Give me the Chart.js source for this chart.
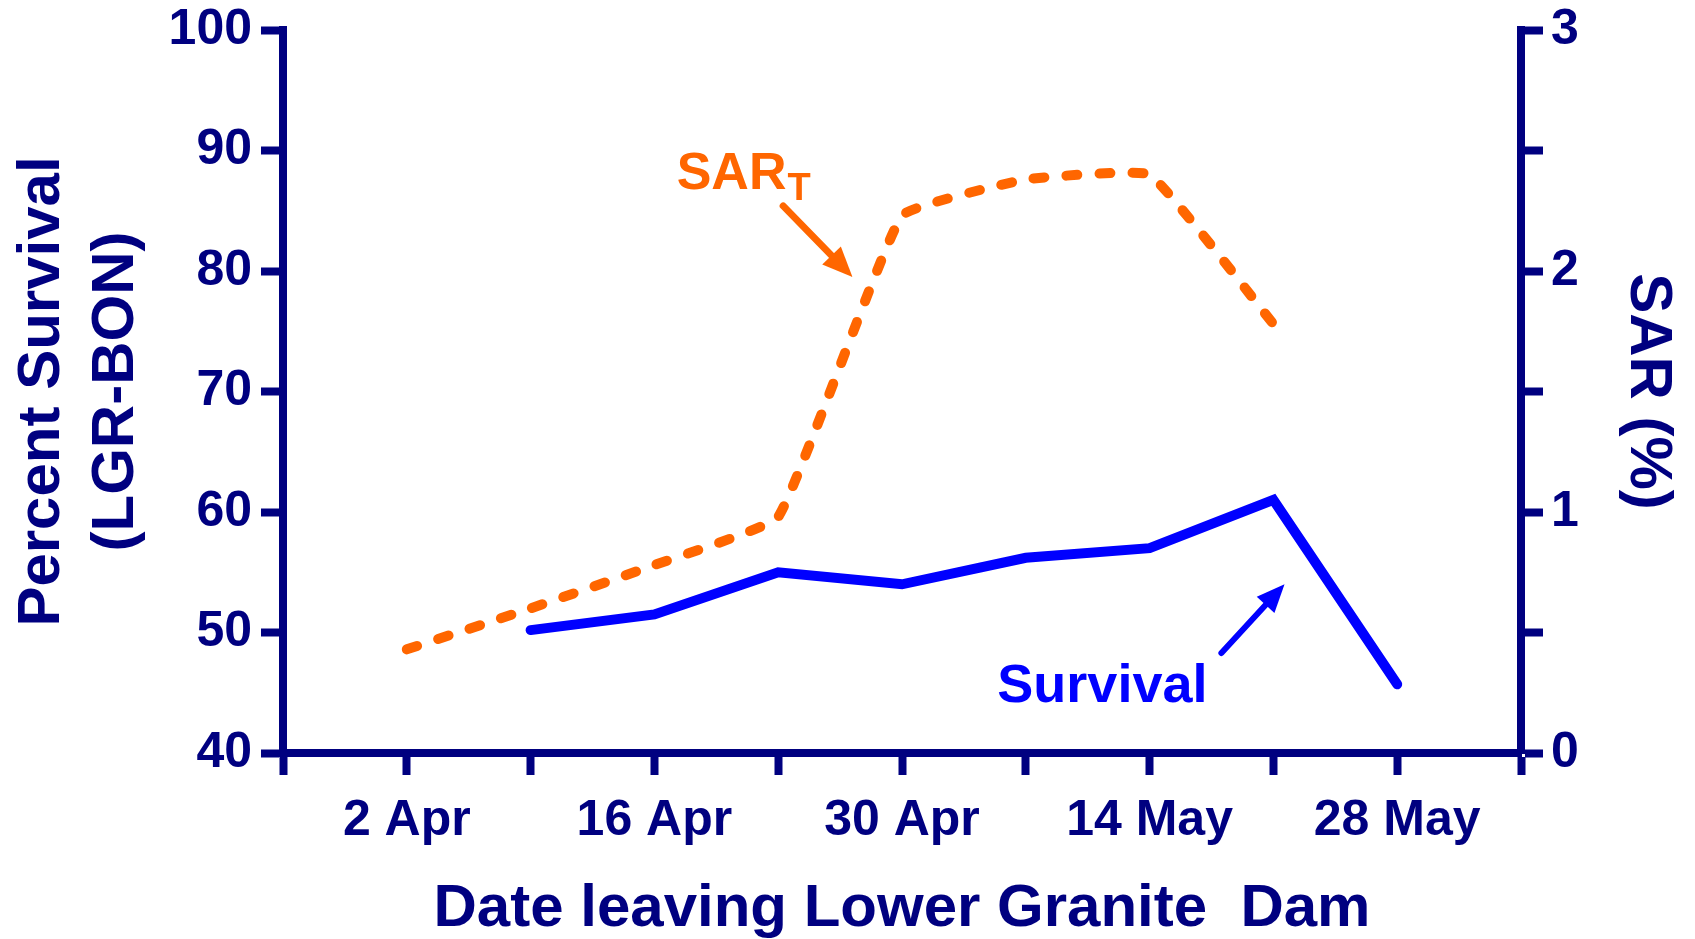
<!DOCTYPE html>
<html>
<head>
<meta charset="utf-8">
<title>Survival and SAR</title>
<script src="https://cdn.jsdelivr.net/npm/chart.js@4.4.1/dist/chart.umd.min.js"></script>
<style>
  body { margin: 0; background: #fff; }
  canvas { display: block; }
</style>
</head>
<body>
<canvas id="chart" width="1695" height="939"></canvas>
<script>
// Data (x = weeks from 26 Mar)
const weekLabels = ['', '2 Apr', '', '16 Apr', '', '30 Apr', '', '14 May', '', '28 May', ''];
const survivalWeeks = [2, 3, 4, 5, 6, 7, 8, 9];
const survivalPct = [50.2, 51.5, 55.0, 54.0, 56.2, 57.0, 61.0, 45.7];
const sarWeeks = [1, 2, 3, 4, 5, 6, 7, 8];
const sarPct = [0.43, 0.60, 0.78, 0.98, 2.23, 2.38, 2.40, 1.78];

// Annotation anchors, in data units
const sarNote = { x: 3.18, y: 2.34 };
const sarArrow = { x1: 4.04, y1: 2.27, x2: 4.60, y2: 1.975 };
const survNote = { x: 5.77, y: 44.2 };
const survArrow = { x1: 7.58, y1: 48.3, x2: 8.09, y2: 54.0 };

const NAVY = '#000080';
const BLUE = '#0000FF';
const ORANGE = '#FF6600';
const FONT = "'Liberation Sans', Arial, sans-serif";

function drawArrow(ctx, x1, y1, x2, y2, color, width, headLen, headW) {
    const ang = Math.atan2(y2 - y1, x2 - x1);
    const bx = x2 - Math.cos(ang) * headLen;
    const by = y2 - Math.sin(ang) * headLen;
    ctx.save();
    ctx.strokeStyle = color;
    ctx.fillStyle = color;
    ctx.lineWidth = width;
    ctx.lineCap = 'round';
    ctx.beginPath();
    ctx.moveTo(x1, y1);
    ctx.lineTo(bx + Math.cos(ang) * 4, by + Math.sin(ang) * 4);
    ctx.stroke();
    ctx.beginPath();
    ctx.moveTo(x2, y2);
    ctx.lineTo(bx + Math.sin(ang) * headW / 2, by - Math.cos(ang) * headW / 2);
    ctx.lineTo(bx - Math.sin(ang) * headW / 2, by + Math.cos(ang) * headW / 2);
    ctx.closePath();
    ctx.fill();
    ctx.restore();
}

const notesPlugin = {
    id: 'notes',
    afterDatasetsDraw(chart) {
        const ctx = chart.ctx;
        const xs = chart.scales.x, ys = chart.scales.y, ysar = chart.scales.ySar;

        // SAR_T label
        ctx.save();
        ctx.fillStyle = ORANGE;
        ctx.textBaseline = 'alphabetic';
        ctx.textAlign = 'left';
        ctx.font = 'bold 52px ' + FONT;
        const sx = xs.getPixelForValue(sarNote.x);
        const sy = ysar.getPixelForValue(sarNote.y);
        ctx.fillText('SAR', sx, sy);
        const w = ctx.measureText('SAR').width;
        ctx.font = 'bold 38px ' + FONT;
        ctx.fillText('T', sx + w + 1, sy + 11);
        ctx.restore();
        drawArrow(ctx,
            xs.getPixelForValue(sarArrow.x1), ysar.getPixelForValue(sarArrow.y1),
            xs.getPixelForValue(sarArrow.x2), ysar.getPixelForValue(sarArrow.y2),
            ORANGE, 7, 30, 26);

        // Survival label
        ctx.save();
        ctx.fillStyle = BLUE;
        ctx.textBaseline = 'alphabetic';
        ctx.textAlign = 'left';
        ctx.font = 'bold 54px ' + FONT;
        ctx.fillText('Survival', xs.getPixelForValue(survNote.x), ys.getPixelForValue(survNote.y));
        ctx.restore();
        drawArrow(ctx,
            xs.getPixelForValue(survArrow.x1), ys.getPixelForValue(survArrow.y1),
            xs.getPixelForValue(survArrow.x2), ys.getPixelForValue(survArrow.y2),
            BLUE, 6, 28, 24);
    }
};

const tickFont = { family: FONT, size: 50, weight: 'bold' };
const titleFont = { family: FONT, size: 60, weight: 'bold', lineHeight: 1.24 };

new Chart(document.getElementById('chart'), {
    type: 'line',
    data: {
        datasets: [
            {
                label: 'SAR',
                data: sarWeeks.map((x, i) => ({ x, y: sarPct[i] })),
                yAxisID: 'ySar',
                borderColor: ORANGE,
                borderWidth: 10,
                borderDash: [11, 22],
                borderCapStyle: 'round',
                tension: 0.1,
                pointRadius: 0,
                fill: false,
            },
            {
                label: 'Survival',
                data: survivalWeeks.map((x, i) => ({ x, y: survivalPct[i] })),
                yAxisID: 'y',
                borderColor: BLUE,
                borderWidth: 10,
                borderCapStyle: 'round',
                borderJoinStyle: 'miter',
                tension: 0,
                pointRadius: 0,
                fill: false,
            },
        ],
    },
    options: {
        responsive: false,
        animation: false,
        devicePixelRatio: 1,
        layout: { padding: { top: 30, left: 0, right: 0, bottom: 0 } },
        plugins: {
            legend: { display: false },
            tooltip: { enabled: false },
        },
        scales: {
            x: {
                type: 'linear',
                min: 0,
                max: 10,
                afterFit: (s) => { s.height = 186; },
                border: { display: true, color: NAVY, width: 8 },
                grid: { drawOnChartArea: false, drawTicks: true, tickLength: 22, tickWidth: 8, tickColor: NAVY },
                ticks: {
                    stepSize: 1,
                    autoSkip: false,
                    maxRotation: 0,
                    padding: 16,
                    color: NAVY,
                    font: tickFont,
                    callback: (v) => weekLabels[v] ?? '',
                },
                title: {
                    display: true,
                    text: 'Date leaving Lower Granite  Dam',
                    color: NAVY,
                    font: { family: FONT, size: 60, weight: 'bold', lineHeight: 1.0 },
                    padding: { top: 0, bottom: 0 },
                },
            },
            y: {
                position: 'left',
                min: 40,
                max: 100,
                afterFit: (s) => { s.width = 283; s.paddingTop = 0; },
                border: { display: true, color: NAVY, width: 8 },
                grid: { drawOnChartArea: false, drawTicks: true, tickLength: 22, tickWidth: 8, tickColor: NAVY },
                ticks: { stepSize: 10, padding: 9, color: NAVY, font: tickFont },
                title: {
                    display: true,
                    text: ['Percent Survival', '(LGR-BON)'],
                    color: NAVY,
                    font: titleFont,
                    padding: { top: 5, bottom: 0 },
                },
            },
            ySar: {
                position: 'right',
                min: 0,
                max: 3,
                afterFit: (s) => { s.width = 174; s.paddingTop = 0; },
                border: { display: true, color: NAVY, width: 8 },
                grid: { drawOnChartArea: false, drawTicks: true, tickLength: 22, tickWidth: 8, tickColor: NAVY },
                ticks: {
                    stepSize: 0.5,
                    padding: 8,
                    color: NAVY,
                    font: tickFont,
                    callback: (v) => (Number.isInteger(v) ? String(v) : ''),
                },
                title: {
                    display: true,
                    text: 'SAR (%)',
                    color: NAVY,
                    font: titleFont,
                    padding: { top: 10, bottom: 0 },
                },
            },
        },
    },
    plugins: [notesPlugin],
});
</script>
</body>
</html>
